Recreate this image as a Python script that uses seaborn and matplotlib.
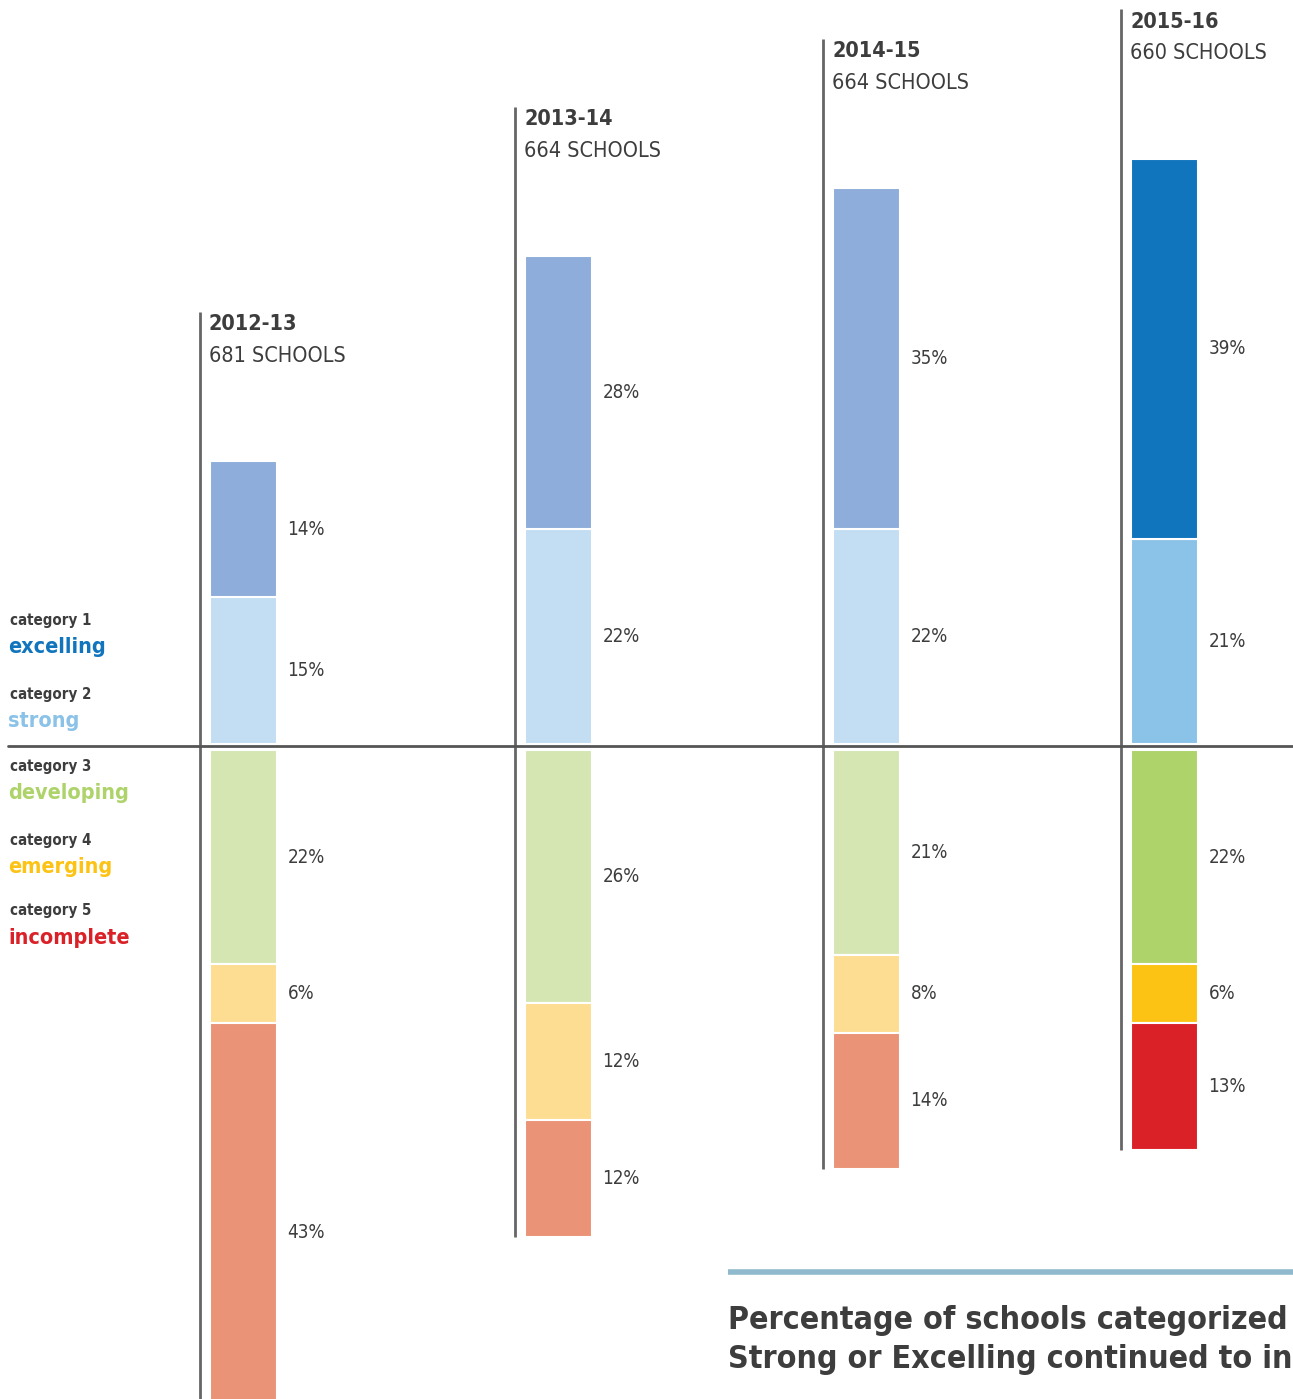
import numpy as np
import seaborn as sns
import matplotlib.pyplot as plt

# school years and number of schools rated
years = ["2012-13", "2013-14", "2014-15", "2015-16"]
schools = ["681 SCHOOLS", "664 SCHOOLS", "664 SCHOOLS", "660 SCHOOLS"]

# percent of schools in each category, per year
cat1 = [14, 28, 35, 39]   # excelling
cat2 = [15, 22, 22, 21]   # strong
cat3 = [22, 26, 21, 22]   # developing
cat4 = [6, 12, 8, 6]      # emerging
cat5 = [43, 12, 14, 13]   # incomplete

cat_names = ["excelling", "strong", "developing", "emerging", "incomplete"]
cat_colors = ["#1075bd", "#8bc2e8", "#add36a", "#fcc314", "#da2128"]
faded_colors = ["#8fadda", "#c3ddf2", "#d5e6b3", "#fddd92", "#ea9377"]

title = "Percentage of schools categorized as\nStrong or Excelling continued to increase"

sns.set_theme(style="white")
plt.rcParams['font.family'] = ['DejaVu Sans']
plt.rcParams['font.stretch'] = 'condensed'
text_col = "#3d3d3d"
line_col = "#666666"

W, H = 1293, 1399
base_px = 746   # pixel row of the zero line
s = 9.75        # pixels per percent

fig = plt.figure(figsize=(W / 100, H / 100), dpi=100)
ax = fig.add_axes([0, 0, 1, 1])
ax.set_xlim(0, W)
ax.set_ylim(-(H - base_px) / s, base_px / s)
ax.axis("off")

col_x = [243.5, 558.5, 866.5, 1164.5]  # bar centres (pixels)
bar_w = 67
gap_up, gap_dn = 0.25, 0.4

up = [cat2, cat1]
up_idx = [1, 0]
down = [cat3, cat4, cat5]
down_idx = [2, 3, 4]

for i, x in enumerate(col_x):
    cols = cat_colors if i == 3 else faded_colors
    # above the line: strong then excelling
    b = gap_up
    for vals, k in zip(up, up_idx):
        v = vals[i]
        ax.bar(x, v, bottom=b, width=bar_w, color=cols[k], edgecolor="white", linewidth=1.5)
        ax.text(x + 44, b + v / 2, f"{v}%", fontsize=13.5, color=text_col, va="center", ha="left")
        b += v
    top = b
    # below the line
    b = -gap_dn
    for vals, k in zip(down, down_idx):
        v = vals[i]
        ax.bar(x, -v, bottom=b, width=bar_w, color=cols[k], edgecolor="white", linewidth=1.5)
        ax.text(x + 44, b - v / 2, f"{v}%", fontsize=13.5, color=text_col, va="center", ha="left")
        b -= v
    bottom = b
    # column rule and header
    lx = x - 43.5
    head = top + 15.3
    ax.plot([lx, lx], [bottom, head], color=line_col, lw=2, solid_capstyle="butt")
    ax.text(lx + 9, head - 1.25, years[i], fontsize=15.5, fontweight="bold", color=text_col, va="center", ha="left")
    ax.text(lx + 9, head - 4.5, schools[i], fontsize=15.5, color=text_col, va="center", ha="left")

# zero line
ax.plot([8, W], [0, 0], color="#555555", lw=2)

# category key on the left
key_y = [620, 694, 766, 840, 911]
for k in range(5):
    y = (base_px - key_y[k]) / s
    ax.text(10, y, f"category {k + 1}", fontsize=10.8, fontweight="bold", color=text_col, va="center", ha="left")
    ax.text(8, y - 2.75, cat_names[k], fontsize=15.5, fontweight="bold", color=cat_colors[k], va="center", ha="left")

# title block bottom right
ax.plot([728, W], [(base_px - 1272) / s] * 2, color="#8fb9cc", lw=4, solid_capstyle="butt")
ax.text(728, (base_px - 1340) / s, title, fontsize=23, fontweight="bold", color=text_col,
        va="center", ha="left", linespacing=1.35)

fig.savefig("out.png", dpi=100)
